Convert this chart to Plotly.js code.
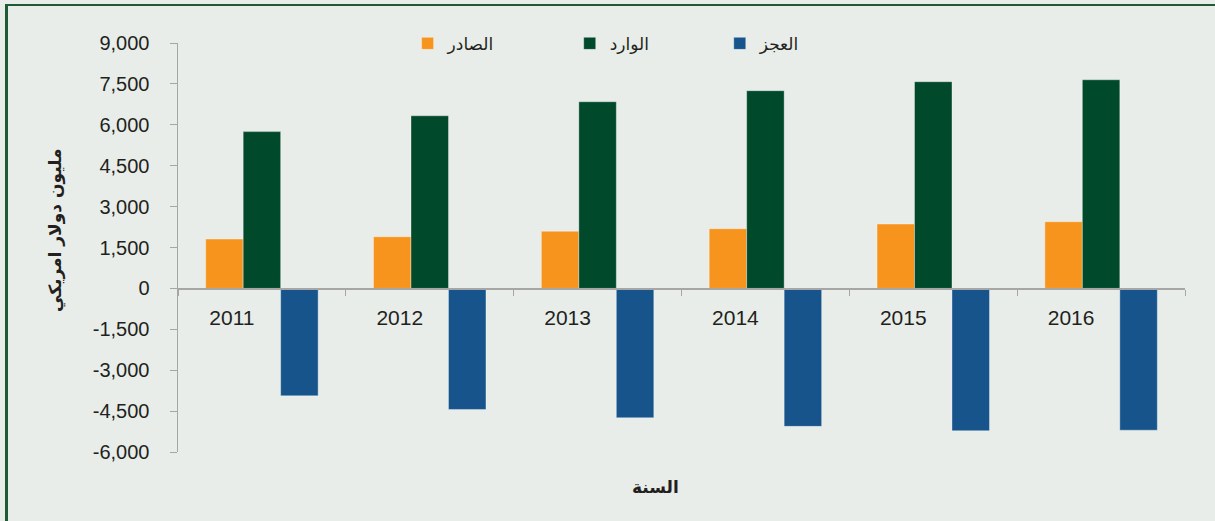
<!DOCTYPE html>
<html>
<head>
<meta charset="utf-8">
<script src="https://cdn.plot.ly/plotly-3.0.1.min.js"></script>
<style>
  html, body { margin: 0; padding: 0; background: #E8EDE9; }
  #wrap { position: relative; width: 1215px; height: 521px; overflow: hidden; }
  #chart { position: absolute; left: 0; top: 0; width: 1215px; height: 521px; }
  #bt { position: absolute; left: 5px; top: 4px; width: 1210px; height: 2px; background: #1F5A36; }
  #bl { position: absolute; left: 5px; top: 4px; width: 3px; height: 517px; background: #1F5A36; }
</style>
</head>
<body>
<div id="wrap">
  <div id="chart"></div>
  <div id="bt"></div>
  <div id="bl"></div>
</div>
<script>
const years = ['2011', '2012', '2013', '2014', '2015', '2016'];
const exportsName = 'الصادر';
const importsName = 'الوارد';
const deficitName = 'العجز';
const exportsVals = [1810, 1895, 2095, 2190, 2360, 2445];
const importsVals = [5750, 6330, 6845, 7250, 7580, 7650];
const deficitVals = [-3940, -4440, -4745, -5060, -5220, -5200];
const yTickVals = [-6000, -4500, -3000, -1500, 0, 1500, 3000, 4500, 6000, 7500, 9000];
const yTickText = ['-6,000', '-4,500', '-3,000', '-1,500', '0', '1,500', '3,000', '4,500', '6,000', '7,500', '9,000'];
const yRange = [-6000, 9000];
const yTitle = 'مليون دولار امريكي';
const xTitle = 'السنة';

const FONT = 'Liberation Sans, Arial, DejaVu Sans, sans-serif';
const AFONT = 'DejaVu Sans, Liberation Sans, sans-serif';
const edge = { color: 'rgba(255,255,255,0.35)', width: 1 };

const traces = [
  { type: 'bar', name: exportsName, x: years, y: exportsVals, legend: 'legend',
    marker: { color: '#F7941E', line: edge } },
  { type: 'bar', name: importsName, x: years, y: importsVals, legend: 'legend2',
    marker: { color: '#00492A', line: edge } },
  { type: 'bar', name: deficitName, x: years, y: deficitVals, legend: 'legend3',
    marker: { color: '#17548C', line: edge } }
];

const zeroPos = (0 - yRange[0]) / (yRange[1] - yRange[0]);

function legendAt(xFrac) {
  return {
    orientation: 'h', x: xFrac, xanchor: 'left', y: 0.998, yanchor: 'middle',
    bgcolor: 'rgba(0,0,0,0)', font: { family: AFONT, size: 17, color: '#231F20' }
  };
}

const layout = {
  width: 1215, height: 521,
  margin: { l: 178, r: 30, t: 43, b: 69 },
  paper_bgcolor: 'rgba(0,0,0,0)',
  plot_bgcolor: 'rgba(0,0,0,0)',
  font: { family: FONT, size: 20, color: '#231F20' },
  barmode: 'group',
  bargap: 0.33,
  bargroupgap: 0,
  showlegend: true,
  legend: legendAt(0.228),
  legend2: legendAt(0.389),
  legend3: legendAt(0.538),
  xaxis: {
    type: 'category',
    anchor: 'free', position: zeroPos,
    showline: true, linecolor: '#A6A6A6', linewidth: 1.5,
    ticks: 'outside', tickson: 'boundaries', ticklen: 6, tickcolor: '#A6A6A6',
    showgrid: false, zeroline: false,
    tickfont: { family: FONT, size: 21, color: '#231F20' },
    ticklabelstandoff: 10, ticklabelshift: -30
  },
  yaxis: {
    range: yRange,
    tickvals: yTickVals, ticktext: yTickText,
    showline: true, linecolor: '#A6A6A6', linewidth: 1.5,
    ticks: 'outside', ticklen: 7, tickcolor: '#A6A6A6',
    showgrid: false, zeroline: false,
    tickfont: { family: FONT, size: 20, color: '#231F20' },
    ticklabelstandoff: 16
  },
  annotations: [
    { text: '<b>' + yTitle + '</b>', xref: 'paper', yref: 'paper',
      x: (55 - 178) / 1007, y: (452 - 230) / 409, textangle: -90,
      showarrow: false, xanchor: 'center', yanchor: 'middle',
      font: { family: AFONT, size: 17, color: '#231F20' } },
    { text: '<b>' + xTitle + '</b>', xref: 'paper', yref: 'paper',
      x: (655 - 178) / 1007, y: (452 - 487) / 409,
      showarrow: false, xanchor: 'center', yanchor: 'middle',
      font: { family: AFONT, size: 17, color: '#231F20' } }
  ]
};

Plotly.newPlot('chart', traces, layout, { displayModeBar: false, staticPlot: true });
</script>
</body>
</html>
